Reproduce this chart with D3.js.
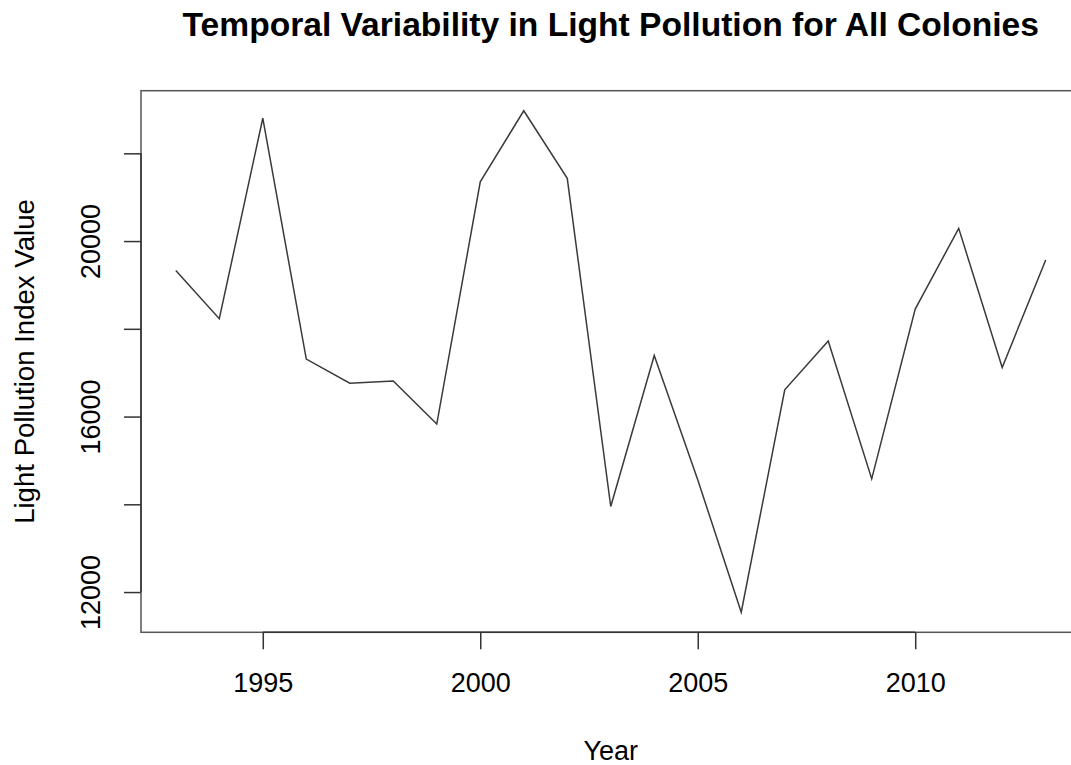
<!DOCTYPE html>
<html>
<head>
<meta charset="utf-8">
<script src="https://cdn.jsdelivr.net/npm/d3@7"></script>
<style>
  html, body { margin: 0; padding: 0; background: #fff; }
  svg { display: block; }
  text { font-family: "Liberation Sans", Arial, Helvetica, sans-serif; fill: #000; }
</style>
</head>
<body>
<svg id="chart" width="1071" height="765"></svg>
<script>
// ---- data ----
const years = [1993, 1994, 1995, 1996, 1997, 1998, 1999, 2000, 2001, 2002, 2003,
               2004, 2005, 2006, 2007, 2008, 2009, 2010, 2011, 2012, 2013];
const lightValues = [19330, 18230, 22800, 17310, 16760, 16810, 15830, 21350, 22970, 21430, 13950,
                     17390, 14560, 11540, 16610, 17720, 14580, 18450, 20290, 17120, 19570];
const xTickValues = [1995, 2000, 2005, 2010];
const yTickValues = [12000, 14000, 16000, 18000, 20000, 22000];
const yTickLabels = ["12000", "", "16000", "", "20000", ""];
const titleText = "Temporal Variability in Light Pollution for All Colonies";
const xLabel = "Year";
const yLabel = "Light Pollution Index Value";

// ---- layout ----
const plot = { left: 141, right: 1080.5, top: 90.7, bottom: 632.3 };
const svg = d3.select("#chart");

function padded(ext) {
  const p = (ext[1] - ext[0]) * 0.04;
  return [ext[0] - p, ext[1] + p];
}

const x = d3.scaleLinear().domain(padded(d3.extent(years))).range([plot.left, plot.right]);
const y = d3.scaleLinear().domain(padded(d3.extent(lightValues))).range([plot.bottom, plot.top]);

// box
svg.append("rect")
  .attr("x", plot.left).attr("y", plot.top)
  .attr("width", plot.right - plot.left).attr("height", plot.bottom - plot.top)
  .attr("fill", "none").attr("stroke", "#555").attr("stroke-width", 1.5);

// line
const line = d3.line().x((d, i) => x(years[i])).y(d => y(d));
svg.append("path")
  .datum(lightValues)
  .attr("d", line)
  .attr("fill", "none")
  .attr("stroke", "#3a3a3a")
  .attr("stroke-width", 1.5)
  .attr("stroke-linejoin", "miter");

// x axis
const xAxis = d3.axisBottom(x).tickValues(xTickValues).tickFormat(d3.format("d"))
  .tickSize(17).tickSizeOuter(0).tickPadding(24);
const gx = svg.append("g").attr("transform", `translate(0,${plot.bottom})`).call(xAxis);
gx.select(".domain").attr("d", `M${x(xTickValues[0])},0H${x(xTickValues[xTickValues.length - 1])}`)
  .attr("stroke", "#333").attr("stroke-width", 1.5);
gx.selectAll(".tick line").attr("stroke", "#333").attr("stroke-width", 1.5);
gx.selectAll(".tick text").attr("font-size", 27).attr("fill", "#000")
  .attr("font-family", "Liberation Sans, Arial, sans-serif");

// y axis
const yAxis = d3.axisLeft(y).tickValues(yTickValues)
  .tickFormat((d, i) => yTickLabels[i]).tickSize(17).tickSizeOuter(0);
const gy = svg.append("g").attr("transform", `translate(${plot.left},0)`).call(yAxis);
gy.select(".domain").attr("d", `M0,${y(yTickValues[0])}V${y(yTickValues[yTickValues.length - 1])}`)
  .attr("stroke", "#333").attr("stroke-width", 1.5);
gy.selectAll(".tick line").attr("stroke", "#333").attr("stroke-width", 1.5);
gy.selectAll(".tick text")
  .attr("font-size", 27).attr("fill", "#000")
  .attr("font-family", "Liberation Sans, Arial, sans-serif")
  .attr("x", null).attr("dy", null)
  .attr("text-anchor", "middle")
  .attr("transform", "translate(-41,0) rotate(-90)");

// title
svg.append("text")
  .attr("x", (plot.left + plot.right) / 2).attr("y", 36)
  .attr("text-anchor", "middle")
  .attr("font-size", 33.6).attr("font-weight", "bold")
  .text(titleText);

// x label
svg.append("text")
  .attr("x", (plot.left + plot.right) / 2).attr("y", 760)
  .attr("text-anchor", "middle")
  .attr("font-size", 27)
  .text(xLabel);

// y label
svg.append("text")
  .attr("transform", `translate(34,${(plot.top + plot.bottom) / 2}) rotate(-90)`)
  .attr("text-anchor", "middle")
  .attr("font-size", 27.6)
  .text(yLabel);
</script>
</body>
</html>
